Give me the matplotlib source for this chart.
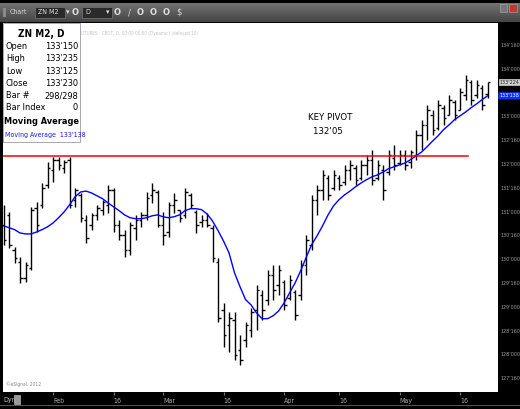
import os
import matplotlib
matplotlib.use("Agg")
import matplotlib.pyplot as plt
from matplotlib import font_manager
from matplotlib.font_manager import FontProperties
import numpy as np
import pandas as pd
from matplotlib.patches import Rectangle

# ZN M2 daily bars, 2012-01-19 .. 2012-05-23 (prices in points)
dates = pd.bdate_range('2012-01-19', '2012-05-23').drop(pd.Timestamp('2012-02-20'))

highs = [131.14, 130.99, 130.26, 130.05, 129.94, 131.10, 131.20, 131.60, 132.04, 132.15,
         132.15, 132.09, 132.15, 131.50, 131.39, 130.93, 130.97, 131.14, 131.25, 131.56,
         131.50, 130.83, 130.62, 130.78, 130.93, 130.99, 131.41, 131.60, 131.46, 130.99,
         131.20, 131.39, 131.04, 131.50, 131.39, 131.04, 130.93, 130.97, 130.72, 130.03,
         129.08, 128.89, 128.89, 128.41, 128.68, 128.98, 129.46, 129.36, 129.78, 129.88,
         129.88, 129.57, 129.67, 129.36, 129.99, 130.51, 131.35, 131.56, 131.88, 131.77,
         131.88, 131.77, 131.98, 132.09, 131.98, 132.09, 132.19, 132.30, 132.09, 131.98,
         132.30, 132.40, 132.30, 132.30, 132.30, 132.72, 132.93, 133.24, 133.14, 133.35,
         133.24, 133.45, 133.35, 133.60, 133.87, 133.77, 133.77, 133.66, 133.73]
lows = [130.30, 130.24, 129.92, 129.50, 129.52, 129.78, 130.57, 131.08, 131.50, 131.62,
        131.88, 131.81, 131.08, 131.10, 130.78, 130.34, 130.62, 130.83, 130.93, 130.97,
        130.57, 130.41, 130.05, 130.09, 130.41, 130.68, 130.83, 131.18, 130.68, 130.30,
        130.47, 130.97, 130.78, 130.87, 131.08, 130.55, 130.68, 130.68, 129.94, 128.68,
        128.16, 128.05, 127.89, 127.78, 128.16, 128.37, 128.52, 128.73, 129.04, 129.15,
        129.25, 128.94, 129.15, 128.73, 129.15, 129.67, 130.20, 130.93, 131.25, 131.25,
        131.46, 131.46, 131.56, 131.67, 131.56, 131.67, 131.77, 131.56, 131.67, 131.25,
        131.77, 131.88, 131.98, 131.88, 131.92, 132.09, 132.30, 132.51, 132.61, 132.72,
        132.82, 133.03, 132.93, 133.14, 133.35, 133.24, 133.39, 133.14, 133.39]
opens = [130.72, 130.93, 130.20, 129.94, 129.61, 129.82, 131.08, 131.14, 131.56, 131.88,
         132.09, 131.92, 132.09, 131.25, 131.35, 130.83, 130.72, 130.93, 131.04, 131.14,
         131.46, 130.72, 130.51, 130.20, 130.66, 130.83, 130.93, 131.35, 131.41, 130.72,
         130.57, 131.14, 131.04, 130.93, 131.35, 130.99, 130.78, 130.83, 130.66, 129.94,
         128.94, 128.62, 128.73, 128.10, 128.31, 128.52, 128.94, 129.25, 129.15, 129.67,
         129.46, 129.52, 129.19, 129.31, 129.25, 129.88, 130.30, 131.25, 131.46, 131.71,
         131.50, 131.71, 131.62, 131.88, 131.92, 131.71, 131.98, 132.09, 131.71, 131.88,
         131.83, 132.13, 132.02, 132.19, 132.04, 132.19, 132.61, 132.82, 133.03, 132.76,
         133.18, 133.03, 133.30, 133.14, 133.45, 133.72, 133.45, 133.60, 133.47]
closes = [130.41, 130.30, 130.03, 129.61, 129.88, 131.04, 130.72, 131.50, 131.92, 132.09,
          131.98, 132.04, 131.14, 131.46, 130.87, 130.45, 130.93, 131.08, 131.20, 131.46,
          130.72, 130.51, 130.20, 130.72, 130.83, 130.93, 131.29, 131.46, 130.72, 130.51,
          131.14, 131.25, 130.87, 131.41, 131.14, 130.72, 130.83, 130.72, 130.03, 128.77,
          128.41, 128.77, 127.99, 127.89, 128.62, 128.89, 129.36, 128.94, 129.67, 129.36,
          129.78, 129.04, 129.57, 128.83, 129.88, 130.41, 131.25, 131.46, 131.77, 131.35,
          131.77, 131.56, 131.88, 131.98, 131.67, 131.98, 132.09, 131.67, 131.98, 131.46,
          132.19, 131.98, 132.19, 131.98, 132.25, 132.61, 132.82, 133.14, 132.72, 133.24,
          132.97, 133.35, 133.03, 133.51, 133.77, 133.35, 133.66, 133.24, 133.72]
moving_avg = [130.70, 130.66, 130.62, 130.55, 130.53, 130.53, 130.57, 130.62, 130.68, 130.76,
              130.87, 130.99, 131.14, 131.31, 131.41, 131.43, 131.39, 131.33, 131.27, 131.18,
              131.10, 131.02, 130.93, 130.87, 130.85, 130.85, 130.87, 130.91, 130.93, 130.89,
              130.87, 130.89, 130.93, 131.02, 131.06, 131.06, 131.04, 130.95, 130.80, 130.60,
              130.38, 130.13, 129.71, 129.42, 129.15, 129.04, 128.87, 128.75, 128.75, 128.81,
              128.91, 129.08, 129.29, 129.50, 129.75, 130.03, 130.30, 130.49, 130.70, 130.93,
              131.12, 131.25, 131.35, 131.43, 131.52, 131.60, 131.67, 131.73, 131.77, 131.83,
              131.90, 131.94, 131.98, 132.02, 132.09, 132.17, 132.25, 132.36, 132.48, 132.59,
              132.72, 132.82, 132.93, 133.01, 133.09, 133.18, 133.26, 133.35, 133.43]

key_pivot = 132 + 5 / 32.0
last_price = 133.72
price_ticks = np.arange(127.5, 135.0, 0.5)

info_rows = [('Open', "133'150"), ('High', "133'235"), ('Low', "133'125"),
             ('Close', "133'230"), ('Bar #', '298/298'), ('Bar Index', '0')]

W, H = 520.0, 409.0


# eSignal draws with a narrow sans: pick a condensed face by file if one is installed
def pick_face(wanted):
    files = {os.path.basename(f.fname).lower(): f.fname for f in font_manager.fontManager.ttflist}
    for name in wanted:
        if name in files:
            return files[name]
    return None


reg_file = pick_face(['liberationsansnarrow-regular.ttf', 'dejavusanscondensed.ttf'])
bold_file = pick_face(['liberationsansnarrow-bold.ttf', 'dejavusanscondensed-bold.ttf'])
SHRINK = 1.0 if reg_file else 0.86


def fp(size, bold=False):
    f = bold_file if bold else reg_file
    if f:
        return FontProperties(fname=f, size=size)
    return FontProperties(family='Liberation Sans', size=size * SHRINK,
                          weight='bold' if bold else 'normal')


def fx(px):
    return px / W


def fy(py):
    return 1 - py / H


def tick32(p):
    whole = int(np.floor(p + 1e-9))
    frac = int(round((p - whole) * 320))
    return "%d'%03d" % (whole, frac)


fig = plt.figure(figsize=(5.2, 4.09), dpi=100, facecolor='black')

# ---- toolbar
tb = fig.add_axes([0, fy(22), 1, 19 / H])
grad = np.linspace(0.45, 0.27, 50).reshape(-1, 1)
tb.imshow(grad, aspect='auto', cmap='gray', vmin=0, vmax=1, extent=[0, 1, 0, 1])
tb.set_xlim(0, 1)
tb.set_ylim(0, 1)
tb.axis('off')
fig.text(fx(10), fy(12.5), 'Chart', color='#d8d8d8', va='center', fontproperties=fp(5))
fig.patches.append(Rectangle((fx(3), fy(17)), fx(3), 9 / H, transform=fig.transFigure,
                             facecolor='#8a8a8a', edgecolor='none'))
fig.patches.append(Rectangle((fx(35), fy(18)), fx(30), 11 / H, transform=fig.transFigure,
                             facecolor='#2a2a2a', edgecolor='#777777', lw=0.5))
fig.text(fx(38), fy(12.5), 'ZN M2', color='#e0e0e0', va='center', fontproperties=fp(5))
fig.text(fx(66), fy(12.5), '▾', color='#e0e0e0', fontsize=5, va='center')
fig.patches.append(Rectangle((fx(82), fy(18)), fx(30), 11 / H, transform=fig.transFigure,
                             facecolor='#2a2a2a', edgecolor='#777777', lw=0.5))
fig.text(fx(85), fy(12.5), 'D', color='#e0e0e0', va='center', fontproperties=fp(5))
fig.text(fx(106), fy(12.5), '▾', color='#e0e0e0', fontsize=5, va='center')
for cx in [75, 117, 140, 153, 166]:
    fig.text(fx(cx), fy(12.5), 'O', color='#dddddd', fontsize=6, va='center', ha='center',
             fontweight='bold')
fig.text(fx(129), fy(12.5), '/', color='#dddddd', fontsize=6, va='center', ha='center')
fig.text(fx(179), fy(12.5), '$', color='#dddddd', fontsize=6, va='center', ha='center')
fig.patches.append(Rectangle((fx(500), fy(12)), fx(7), 8 / H, transform=fig.transFigure,
                             facecolor='#777777', edgecolor='#aaaaaa', lw=0.4))
fig.patches.append(Rectangle((fx(509), fy(12)), fx(8), 8 / H, transform=fig.transFigure,
                             facecolor='#c0392b', edgecolor='#aaaaaa', lw=0.4))

# ---- main chart
ax = fig.add_axes([fx(3), fy(392), fx(495), 369 / H])
ax.set_facecolor('white')
x = np.arange(len(dates))
ax.vlines(x, lows, highs, color='black', lw=1.0)
ax.hlines(opens, x - 0.45, x, color='black', lw=1.0)
ax.hlines(closes, x, x + 0.45, color='black', lw=1.0)
ax.plot(x, moving_avg, color='#0000ff', lw=1.0)
ax.plot([-1, 84.5], [key_pivot, key_pivot], color='#ff0000', lw=1.1)

ax.set_xlim(-0.1, 89.9)
ax.set_ylim(127.21, 134.96)

ax.text(0.66, 0.745, 'KEY PIVOT', transform=ax.transAxes, ha='center', va='center',
        fontproperties=fp(6.8))
ax.text(0.656, 0.705, "132'05", transform=ax.transAxes, ha='center', va='center',
        fontproperties=fp(6.8))
ax.text(0.006, 0.016, '\u00a9eSignal, 2012', transform=ax.transAxes, color='#888888',
        fontproperties=fp(3.6))

# right price axis (the 133'160 label sits under the MA marker)
ax.yaxis.tick_right()
ax.set_yticks(price_ticks)
ax.set_yticklabels(['' if abs(p - 133.5) < 1e-6 else tick32(p) for p in price_ticks])
ax.tick_params(axis='y', length=0, pad=1.5, labelcolor='#a0a0a0')
for lab in ax.get_yticklabels():
    lab.set_fontproperties(fp(3.9))

# last price and MA boxes on the price axis
ax.text(1.003, last_price, "133'224", transform=ax.get_yaxis_transform(),
        va='center', ha='left', color='#222222', fontproperties=fp(3.9),
        bbox=dict(boxstyle='square,pad=0.15', fc='#cfcfcf', ec='#eeeeee', lw=0.4))
ax.text(1.003, moving_avg[-1], "133'138", transform=ax.get_yaxis_transform(),
        va='center', ha='left', color='white', fontproperties=fp(3.9),
        bbox=dict(boxstyle='round,pad=0.15', fc='#1030ff', ec='#1030ff', lw=0.4))

# bottom date axis
month_idx = []
month_lab = []
for m in [2, 3, 4, 5]:
    sel = np.where(dates.month == m)[0]
    month_idx.append(sel[0])
    month_lab.append(dates[sel[0]].strftime('%b'))
    mid = np.where((dates.month == m) & (dates.day == 16))[0]
    month_idx.append(mid[0])
    month_lab.append('16')
ax.set_xticks(month_idx)
ax.set_xticklabels(month_lab)
ax.tick_params(axis='x', length=2, color='#777777', pad=2, labelcolor='#a8a8a8', direction='out')
for lab in ax.get_xticklabels():
    lab.set_fontproperties(fp(5))
    lab.set_horizontalalignment('left')
for s in ax.spines.values():
    s.set_visible(False)

fig.text(fx(3), fy(400), 'Dyn', color='#bbbbbb', va='center', fontproperties=fp(5))
fig.patches.append(Rectangle((fx(14), fy(404)), fx(6), 9 / H, transform=fig.transFigure,
                             facecolor='#9a9a9a', edgecolor='#cccccc', lw=0.4))
fig.patches.append(Rectangle((0, fy(406)), 1, 1 / H, transform=fig.transFigure,
                             facecolor='#555555', edgecolor='none'))

# ---- header text and data window
fig.text(fx(81), fy(33), 'UTURES   CBOT, D, 00:00-00:00 (Dynamic) (delayed 10)',
         color='#c4c4c4', va='center', fontproperties=fp(3.3))
fig.patches.append(Rectangle((fx(3), fy(142)), fx(77), 119 / H, transform=fig.transFigure,
                             facecolor='white', edgecolor='#9a9aaa', lw=0.6, zorder=5))
fig.text(fx(41.5), fy(34), 'ZN M2, D', ha='center', va='center', zorder=6,
         fontproperties=fp(7.2, bold=True))
for k, (name, val) in enumerate(info_rows):
    yy = 46.5 + k * 12.3
    fig.text(fx(6), fy(yy), name, va='center', zorder=6, fontproperties=fp(6.6))
    fig.text(fx(78), fy(yy), val, va='center', ha='right', zorder=6, fontproperties=fp(6.6))
fig.text(fx(41.5), fy(121), 'Moving Average', ha='center', va='center', zorder=6,
         fontproperties=fp(6.6, bold=True))
fig.text(fx(5), fy(134.5), "Moving Average  133'138", va='center', color='#1a1aff', zorder=6,
         fontproperties=fp(5.0))

fig.savefig('out.png', dpi=100, facecolor='black')
